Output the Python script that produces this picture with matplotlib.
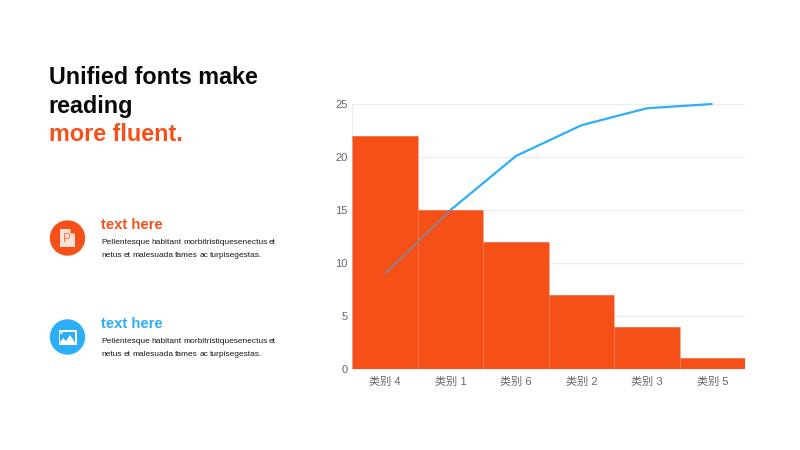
import matplotlib
matplotlib.use("Agg")
import matplotlib.pyplot as plt
from matplotlib.patches import Circle, Rectangle, Polygon

categories = ["类别 4", "类别 1", "类别 6", "类别 2", "类别 3", "类别 5"]
bar_values = [22, 15, 12, 7, 4, 1]
line_values = [9, 15, 20.1, 23, 24.6, 25]
y_ticks = [0, 5, 10, 15, 20, 25]

ORANGE = "#F65019"
BLUE = "#2CAEF8"
TICK = "#666666"
body = "Pellentesque habitant morbitristiquesenectus et"
body2 = "netus et malesuada fames ac turpisegestas."

plt.rcParams["font.family"] = ["Liberation Sans", "Noto Sans CJK SC", "DejaVu Sans"]
W, H = 800, 450
fig = plt.figure(figsize=(8, 4.5), dpi=100, facecolor="white")

bg = fig.add_axes([0, 0, 1, 1])
bg.set_xlim(0, W); bg.set_ylim(H, 0); bg.axis("off")

bg.text(49, 84, "Unified fonts make", fontsize=16.8, fontweight="bold", color="#0a0a0a", va="baseline")
bg.text(48.3, 112.5, "reading", fontsize=16.8, fontweight="bold", color="#0a0a0a", va="baseline")
bg.text(49, 140.7, "more fluent.", fontsize=16.8, fontweight="bold", color=ORANGE, va="baseline")

def justified(txt, x0, x1, y):
    words = txt.split()
    r = fig.canvas.get_renderer()
    items = [bg.text(0, y, w, fontsize=6.0, color="#1a1a1a", va="baseline") for w in words]
    widths = [t.get_window_extent(r).width for t in items]
    gap = (x1 - x0 - sum(widths)) / (len(words) - 1)
    x = x0
    for t, w in zip(items, widths):
        t.set_x(x)
        x += w + gap

for cy, col in [(238, ORANGE), (337, BLUE)]:
    bg.add_patch(Circle((67.5, cy), 17.7, color=col, lw=0))
    bg.text(101, cy - 9, "text here", fontsize=10.7, fontweight="bold", color=col, va="baseline")
    justified(body, 101.5, 275.5, cy + 6)
    justified(body2, 101.5, 262.5, cy + 19)

bg.add_patch(Polygon([(60, 229), (70, 229), (75, 234), (75, 247), (60, 247)], closed=True, color="#FDE3D9", lw=0))
bg.add_patch(Polygon([(70.5, 229), (75, 233.5), (70.5, 233.5)], closed=True, color=ORANGE, lw=0))
bg.text(67, 239.5, "P", fontsize=8.5, color="#F8784F", ha="center", va="center")
bg.add_patch(Rectangle((58.5, 330), 18, 15, color="white", lw=0))
bg.add_patch(Rectangle((60, 331.5), 15, 12, color=BLUE, lw=0))
bg.add_patch(Circle((61.5, 333), 1.2, color="white", lw=0))
bg.add_patch(Polygon([(59, 344), (63, 338), (66, 341), (70, 335), (76, 344)], closed=True, color="white", lw=0))

ax = fig.add_axes([352.3 / W, 1 - 369 / H, 393 / W, 265 / H])
ax.patch.set_alpha(0)
x = list(range(len(categories)))
ax.bar(x, bar_values, width=1.0, color=ORANGE, edgecolor="#FBA98E", linewidth=0.7, zorder=2)
ax.plot(x, line_values, color=BLUE, lw=1.6, zorder=3, solid_capstyle="butt", clip_on=False)
ax.bar(x, bar_values, width=1.0, color=ORANGE, alpha=0.55, linewidth=0, zorder=4)
ax.set_xlim(-0.5, 5.5)
ax.set_ylim(0, 25)
ax.set_yticks(y_ticks)
ax.set_xticks(x, categories)
ax.grid(axis="y", color="#EDEEF0", lw=1.0, zorder=1)
ax.tick_params(axis="both", length=0, labelsize=8, labelcolor=TICK)
ax.tick_params(axis="x", pad=5.5)
ax.tick_params(axis="y", pad=3.5)
for s in ["top", "right"]:
    ax.spines[s].set_visible(False)
ax.spines["left"].set_color("#EDEEF0")
ax.spines["bottom"].set_color("#EDEEF0")
fig.savefig("out.png", dpi=100)
